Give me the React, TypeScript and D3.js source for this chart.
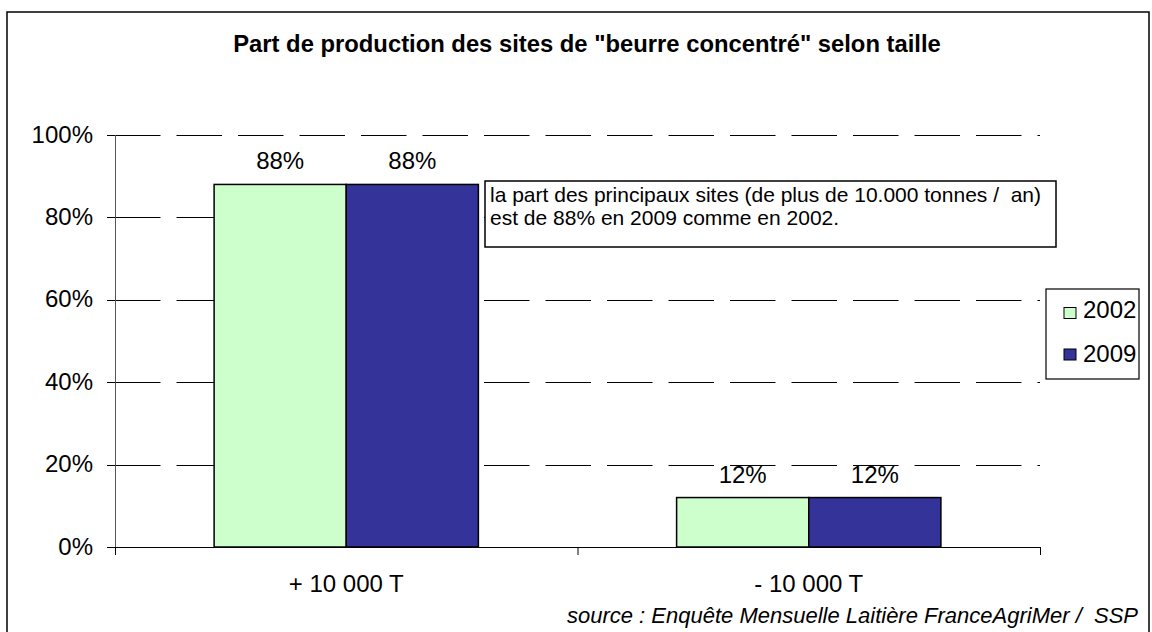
import React from "react";
import * as d3 from "d3";

const categories = ["+ 10 000 T", "- 10 000 T"];
const seriesNames = ["2002", "2009"];
const values2002 = [0.88, 0.12];
const values2009 = [0.88, 0.12];
const yTicks = [0, 0.2, 0.4, 0.6, 0.8, 1.0];
const valueLabels2002 = ["88%", "12%"];
const valueLabels2009 = ["88%", "12%"];
const title = 'Part de production des sites de "beurre concentré" selon taille';
const note1 = "la part des principaux sites (de plus de 10.000 tonnes /  an)";
const note2 = "est de 88% en 2009 comme en 2002.";
const sourceText = "source : Enquête Mensuelle Laitière FranceAgriMer /  SSP";

const colors = ["#CCFFCC", "#333399"];
const FONT = "Arial, 'Liberation Sans', Helvetica, sans-serif";

export default function App() {
  const W = 1152, H = 632;
  const left = 115, right = 1040, top = 135, bottom = 547;
  const y = d3.scaleLinear().domain([0, 1]).range([bottom, top]);
  const x0 = d3.scaleBand<string>().domain(categories).range([left, right]).paddingInner(1.5 / 3.5).paddingOuter(0.75 / 3.5);
  const x1 = d3.scaleBand<string>().domain(seriesNames).range([0, x0.bandwidth()]);
  const series = [values2002, values2009];
  const labels = [valueLabels2002, valueLabels2009];
  const fmt = d3.format(".0%");
  const catTicks = d3.range(categories.length + 1).map((i) => left + i * x0.step());
  const pre = { whiteSpace: "pre" as const };

  return (
    <svg width={W} height={H} style={{ position: "absolute", left: 0, top: 0, background: "#fff" }} fontFamily={FONT}>
      <rect x={0} y={0} width={W} height={H} fill="#fff" />
      <rect x={7} y={12} width={1142} height={640} fill="none" stroke="#000" strokeWidth={1.5} />
      <text x={587} y={52} textAnchor="middle" fontWeight="bold" fontSize={23.8}>{title}</text>

      {/* gridlines */}
      {yTicks.filter((t) => t > 0).map((t) => (
        <line key={"g" + t} x1={left} x2={right} y1={Math.round(y(t)) + 0.5} y2={Math.round(y(t)) + 0.5}
          stroke="#000" strokeWidth={1} strokeDasharray="45.5,16" />
      ))}
      {/* y axis */}
      <line x1={left + 0.5} x2={left + 0.5} y1={top} y2={bottom + 8} stroke="#555" strokeWidth={1} />
      {yTicks.map((t) => (
        <g key={"t" + t}>
          <line x1={left - 8} x2={left} y1={Math.round(y(t)) + 0.5} y2={Math.round(y(t)) + 0.5} stroke="#000" />
          <text x={93} y={y(t) + 7.5} textAnchor="end" fontSize={24}>{fmt(t)}</text>
        </g>
      ))}

      {/* bars */}
      {categories.map((c, i) => (
        <g key={c} transform={`translate(${x0(c)},0)`}>
          {seriesNames.map((s, j) => (
            <g key={s}>
              <rect x={x1(s)} y={y(series[j][i])} width={x1.bandwidth()} height={bottom - y(series[j][i])}
                fill={colors[j]} stroke="#000" strokeWidth={1.5} />
              <text x={x1(s)! + x1.bandwidth() / 2} y={y(series[j][i]) - 15} textAnchor="middle" fontSize={24}>{labels[j][i]}</text>
            </g>
          ))}
        </g>
      ))}

      {/* x axis */}
      <line x1={left} x2={right} y1={bottom + 0.5} y2={bottom + 0.5} stroke="#000" strokeWidth={1} />
      {catTicks.map((xv, i) => (
        <line key={"ct" + i} x1={xv + 0.5} x2={xv + 0.5} y1={bottom} y2={bottom + 8} stroke="#000" strokeWidth={1} />
      ))}
      {categories.map((c) => (
        <text key={"cl" + c} x={x0(c)! + x0.bandwidth() / 2} y={592} textAnchor="middle" fontSize={24}>{c}</text>
      ))}

      {/* annotation */}
      <rect x={485} y={181} width={571} height={66} fill="#fff" stroke="#000" strokeWidth={1.5} />
      <text x={490} y={202} fontSize={21} style={pre}>{note1}</text>
      <text x={490} y={225} fontSize={21} style={pre}>{note2}</text>

      {/* legend */}
      <rect x={1046} y={289} width={93} height={90} fill="#fff" stroke="#000" strokeWidth={1.2} />
      {seriesNames.map((s, j) => (
        <g key={"l" + s}>
          <rect x={1064} y={307.5 + j * 41.5} width={12} height={11} fill={colors[j]} stroke="#000" strokeWidth={1} />
          <text x={1083} y={318 + j * 43.5} fontSize={24}>{s}</text>
        </g>
      ))}

      <text x={1138} y={623} textAnchor="end" fontStyle="italic" fontSize={22} style={pre}>{sourceText}</text>
    </svg>
  );
}
